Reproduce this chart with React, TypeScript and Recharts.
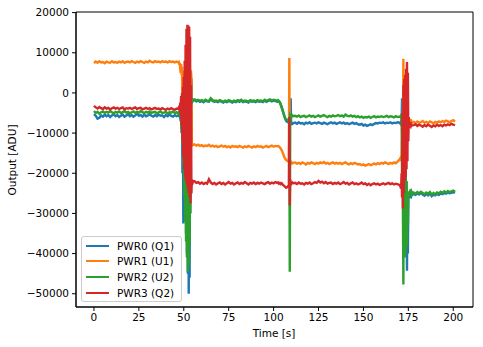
import { LineChart, Line, XAxis, YAxis, ReferenceArea, Legend } from "recharts";

// sample instants [s]; denser around the three switching events
const TIME = [
  0, 1, 2, 3, 4, 5, 6, 7, 8, 9, 10, 11,
  12, 13, 14, 15, 16, 17, 18, 19, 20, 21, 22, 23,
  24, 25, 26, 27, 28, 29, 30, 31, 32, 33, 34, 35,
  36, 37, 38, 39, 40, 41, 42, 43, 44, 45, 46, 47,
  47.25, 47.5, 47.75, 48, 48.25, 48.5, 48.75, 49,
  49.25, 49.5, 49.75, 50, 50.25, 50.5, 50.75, 51,
  51.25, 51.5, 51.75, 52, 52.25, 52.5, 52.75, 53,
  53.25, 53.5, 53.75, 54, 54.25, 54.5, 54.75, 55,
  56, 57, 58, 59, 60, 61, 62, 63, 64, 65, 66, 67,
  68, 69, 70, 71, 72, 73, 74, 75, 76, 77, 78, 79,
  80, 81, 82, 83, 84, 85, 86, 87, 88, 89, 90, 91,
  92, 93, 94, 95, 96, 97, 98, 99, 100, 101, 102,
  102.5, 103, 103.5, 104, 104.5, 105, 105.5, 106, 106.5, 107, 107.5, 108, 108.5,
  108.75, 109, 109.25, 109.5, 109.75, 110, 110.5, 111,
  112, 113, 114, 115, 116, 117, 118, 119, 120, 121, 122, 123,
  124, 125, 126, 127, 128, 129, 130, 131, 132, 133, 134, 135,
  136, 137, 138, 139, 140, 141, 142, 143, 144, 145, 146, 147,
  148, 149, 150, 151, 152, 153, 154, 155, 156, 157, 158, 159,
  160, 161, 162, 163, 164, 165, 166, 167, 168, 169, 170,
  170.25, 170.5, 170.75, 171, 171.25, 171.5, 171.75, 172,
  172.25, 172.5, 172.75, 173, 173.25, 173.5, 173.75, 174,
  174.25, 174.5, 174.75, 175, 175.25, 175.5, 175.75, 176,
  176.25, 176.5, 176.75, 177,
  178, 179, 180, 181, 182, 183, 184, 185, 186, 187, 188, 189,
  190, 191, 192, 193, 194, 195, 196, 197, 198, 199, 200, 201,
];

const PWR0 = [
  -5300, -5700, -6400, -6200, -5600, -5900, -5400, -5800, -5500, -6000, -5600, -5300,
  -5800, -5500, -6000, -5700, -5400, -5900, -5600, -5300, -5800, -5500, -5900, -5600,
  -5200, -5700, -5500, -5900, -5400, -5800, -5600, -5300, -5700, -5900, -5500, -5800,
  -5400, -5700, -5600, -6000, -5500, -5800, -5400, -5700, -5900, -5500, -5800, -5600,
  -5700, -5500, -5900, -5600, -7000, -5000, -10000, -4000,
  -20000, -3000, -32500, -2000, -28000, -1000, -30000, -3000,
  -35000, -5000, -40000, -8000, -45000, -10000, -50000, -12000,
  -46000, -6000, -25000, -3000, 3500, -1800, -2200, -1900,
  -1800, -2100, -1900, -2200, -2000, -2300, -1900, -2100, -2200, -1500, -2000, -2200,
  -2100, -2300, -2000, -2200, -2400, -2100, -2300, -2000, -2200, -2400, -2100, -2300,
  -2000, -2200, -1900, -2300, -2100, -2200, -2400, -2000, -2200, -2100, -2300, -2000,
  -2200, -2100, -2300, -1900, -2200, -2000, -1800, -2100, -1900, -2000, -2200,
  -2000, -2200, -2400, -2900, -3500, -4200, -5000, -5800, -6500, -7000, -7200, -7300, -7100,
  -7400, -7600, -7500, -1300, -7600, -7400, -7700, -7500,
  -7400, -7700, -7300, -7600, -7500, -7800, -7400, -7600, -7300, -7700, -7500, -7400,
  -7600, -7300, -7500, -7700, -7400, -7600, -7800, -7500, -7300, -7600, -7400, -7700,
  -7500, -7300, -7600, -7400, -7700, -7500, -7800, -7600, -7400, -7700, -7500, -7800,
  -7900, -7700, -8100, -7900, -8200, -8000, -7800, -8000, -7700, -7500, -7600, -7400,
  -7500, -7300, -7600, -7400, -7500, -7300, -7600, -7400, -7500, -7300, -7400,
  -7400, -7600, -7300, -7500, -7400, -1300, -9000, -3000,
  -20000, -6000, -28000, -12000, -35000, -16000, -40000, -22000,
  -44300, -27000, -40000, -26000, -25500, -25000, -25400, -25100,
  -25500, -25200, -25600, -25300,
  -25200, -25400, -25000, -25300, -24900, -25300, -25600, -25100, -25500, -25000, -25700, -25300,
  -25500, -25100, -25400, -25000, -25200, -24900, -25100, -24800, -25000, -24900, -24700, -24900,
];

const PWR1 = [
  7400, 7800, 7500, 7900, 7600, 7700, 7400, 7800, 7600, 7500, 7900, 7600,
  7700, 7500, 7800, 7600, 7900, 7500, 7700, 7800, 7600, 7900, 7700, 7500,
  7800, 7600, 7900, 7700, 7500, 7800, 7600, 8000, 7700, 7600, 7900, 7700,
  7800, 7600, 7900, 7700, 7800, 7600, 7900, 7700, 7800, 7600, 7800, 7600,
  7700, 7000, 7500, 6000, 5000, 7200, 4500, 6500,
  -2000, 5500, -8000, 3000, -10000, 4000, -12000, 2000,
  -13000, 1000, -14000, 3000, -12000, 4000, -13000, 5000,
  -12000, 6000, -10000, 5500, 3800, -12500, -12800, -13000,
  -12800, -13100, -12900, -13200, -13000, -13300, -13100, -13200, -12900, -13300, -13100, -13400,
  -13200, -13500, -13300, -13100, -13400, -13200, -13500, -13300, -13600, -13200, -13400, -13300,
  -13500, -13200, -13400, -13600, -13300, -13500, -13200, -13400, -13600, -13300, -13500, -13200,
  -13400, -13300, -13600, -13400, -13200, -13500, -13300, -13100, -13400, -13200, -13300,
  -13200, -13300, -13600, -13900, -14300, -14800, -15400, -16000, -16400, -16700, -16900, -17000, -17100,
  8700, -17000, -17400, -17200, -17500, -17300, -17500, -17400,
  -17300, -17600, -17400, -17700, -17300, -17500, -17800, -17400, -17600, -17300, -17500, -17700,
  -17400, -17600, -17300, -17500, -17200, -17600, -17400, -17700, -17500, -17300, -17600, -17400,
  -17600, -17400, -17700, -17500, -17300, -17600, -17800, -17500, -17700, -17400, -17600, -17800,
  -17700, -18000, -17800, -18100, -17900, -17700, -18000, -17800, -17600, -17800, -17500, -17700,
  -17400, -17600, -17300, -17500, -17700, -17400, -17600, -17300, -17500, -17100, -16600,
  -16500, -16300, -16800, -16000, -17000, -12000, -15000, -8000,
  8500, -14000, 0, -12000, 2000, -10000, 3000, -8000,
  1000, -6000, -7500, -7000, -7300, -7100, -7400, -7200,
  -7000, -7300, -7100, -7400,
  -7200, -7500, -7100, -7400, -7300, -7000, -7400, -7200, -7500, -7100, -7300, -7600,
  -7200, -7400, -7100, -7300, -7000, -7200, -6900, -7100, -7300, -7000, -6800, -7100,
];

const PWR2 = [
  -4500, -5000, -4700, -5200, -4800, -4600, -5000, -4700, -4900, -4500, -4800, -5100,
  -4700, -4900, -4600, -5000, -4800, -4500, -4900, -4700, -5100, -4800, -4600, -5000,
  -4700, -4900, -4500, -4800, -5000, -4700, -4900, -4600, -5000, -4800, -4700, -5100,
  -4800, -4600, -5000, -4900, -4700, -5100, -4800, -4900, -4600, -5000, -4800, -5200,
  -4900, -4700, -5000, -4800, -6000, -4500, -9000, -3000,
  -13000, -2000, -18000, -1000, -26000, -3000, -32000, -2000,
  -37000, -4000, -41000, -6000, -44500, -8000, -43000, -10000,
  -38000, -5000, -30000, -1500, -1800, -1400, -2000, -1700,
  -1600, -1900, -1700, -2000, -1800, -2100, -1700, -1900, -2000, -1300, -1800, -2000,
  -1900, -2100, -1800, -2000, -2200, -1900, -2100, -1800, -2000, -2200, -1900, -2100,
  -1800, -2000, -1700, -2100, -1900, -2000, -2200, -1800, -2000, -1900, -2100, -1800,
  -2000, -1900, -2100, -1700, -2000, -1800, -1600, -1900, -1700, -1800, -2000,
  -1800, -2000, -2400, -3000, -3700, -4400, -5100, -5800, -6300, -6600, -6700, -6800, -6600,
  -6000, -44500, -5600, -5800, -5700, -5900, -5600, -5800,
  -5700, -5900, -5600, -6000, -5800, -5700, -6000, -5800, -5600, -5900, -5700, -6000,
  -5800, -5600, -5900, -5700, -5500, -5800, -6000, -5700, -5900, -5600, -5800, -5700,
  -5500, -5800, -5600, -5900, -5400, -5700, -5800, -5600, -5900, -5700, -6000, -5800,
  -6100, -5900, -6200, -6000, -6100, -5900, -6200, -6000, -5800, -6100, -5900, -6000,
  -5800, -6000, -5900, -5700, -6000, -5800, -5900, -6100, -5800, -6000, -5900,
  -5900, -6000, -5800, -6100, -6000, -20000, -8000, -30000,
  -47700, -12000, -40000, -18000, -41000, -20000, -39000, -22000,
  -38000, -25000, -33000, -25500, -24500, -25200, -24800, -25100,
  -24700, -25000, -24600, -24900,
  -24800, -25100, -24700, -25000, -24600, -24900, -25200, -24800, -25100, -24700, -25300, -24900,
  -25200, -24800, -25000, -24600, -24900, -24500, -24800, -24400, -24700, -24500, -24300, -24600,
];

const PWR3 = [
  -3200, -3600, -3900, -3500, -3800, -4000, -3600, -3900, -3700, -4100, -3800, -3600,
  -3900, -3700, -4000, -3800, -3600, -4100, -3800, -3900, -3700, -4000, -3800, -3600,
  -4000, -3800, -3700, -4100, -3900, -3700, -4000, -3800, -4100, -3900, -3700, -4000,
  -3900, -4100, -3800, -4000, -4200, -3900, -4100, -3800, -4000, -4200, -3900, -4000,
  -3800, -3200, -4600, -2400, -5600, -800, -8000, 0,
  -12000, 1500, -16000, 4000, -19000, 8000, -21000, 12000,
  -22000, 16000, -23000, 17000, -24000, 16800, -25000, 16500,
  -26000, 14000, -27500, 2000, -25000, -21500, -22800, -22000,
  -22000, -22400, -22200, -22600, -22300, -22700, -22400, -22600, -21500, -22300, -22700, -22400,
  -22800, -22500, -22300, -22700, -22400, -22800, -22500, -22200, -22600, -22400, -22800, -22500,
  -22300, -22700, -22400, -22600, -22200, -22500, -22800, -22400, -22600, -22300, -22700, -22400,
  -22600, -22300, -22500, -22700, -22400, -22200, -22600, -22300, -22500, -22200, -22400,
  -22300, -22600, -22400, -22700, -22500, -22800, -23000, -23200, -23400, -23600, -23500, -23300, -23000,
  -6000, -28000, -21500, -23000, -22200, -22600, -22300, -22500,
  -22400, -22700, -22300, -22600, -22500, -22800, -22400, -22600, -22300, -22700, -22500, -22200,
  -22400, -21900, -22300, -22100, -22500, -22200, -22600, -22400, -22300, -22700, -22400, -22600,
  -22300, -22700, -22500, -22200, -22600, -22400, -22800, -22500, -22300, -22700, -22500, -22800,
  -22600, -22300, -22700, -22500, -22900, -22600, -23000, -22700, -22500, -22800, -22600, -22900,
  -22700, -22500, -22800, -22600, -22400, -22700, -22500, -22800, -22600, -22700, -22900,
  -23000, -23200, -23500, -23800, -20000, -26000, -5000, -28800,
  2000, -25000, 3500, -22000, 4500, -21000, 6000, -19000,
  7700, -17000, 5000, -12000, -6000, -8500, -7700, -8000,
  -7800, -8200, -7900, -8100,
  -8000, -7800, -8200, -7900, -8100, -8400, -8000, -8300, -7900, -8200, -8500, -8100,
  -8300, -7900, -8200, -8000, -8300, -7900, -8100, -7800, -8000, -7700, -7900, -8000,
];

const NAMES = ["PWR0 (Q1)", "PWR1 (U1)", "PWR2 (U2)", "PWR3 (Q2)"];
const COLORS = ["#1f77b4", "#ff7f0e", "#2ca02c", "#d62728"];
const KEYS = ["pwr0", "pwr1", "pwr2", "pwr3"];

const X_TICKS = [0, 25, 50, 75, 100, 125, 150, 175, 200];
const Y_TICKS = [-50000, -40000, -30000, -20000, -10000, 0, 10000, 20000];

const FONT = "'DejaVu Sans', sans-serif";
const X_DOMAIN: [number, number] = [-10, 211];
const Y_DOMAIN: [number, number] = [-53300, 20150];

const data = TIME.map((t, i) => ({
  t,
  pwr0: PWR0[i],
  pwr1: PWR1[i],
  pwr2: PWR2[i],
  pwr3: PWR3[i],
}));

// matplotlib uses a real minus sign
const fmt = (v: number) => (v < 0 ? "\u2212" + Math.abs(v) : String(v));

function LegendBox(props: any) {
  const payload = props.payload || [];
  return (
    <div
      style={{
        background: "rgba(255,255,255,0.8)",
        border: "1px solid #cccccc",
        borderRadius: 3,
        padding: "1px 0 1px 4px",
        fontFamily: FONT,
        fontSize: 10.5,
        color: "#000",
        boxSizing: "border-box",
        width: 101,
      }}
    >
      {payload.map((p: any) => (
        <div key={p.value} style={{ display: "flex", alignItems: "center", height: 15.6 }}>
          <span style={{ display: "inline-block", width: 23, height: 2, background: p.color, marginRight: 8 }} />
          <span>{p.value}</span>
        </div>
      ))}
    </div>
  );
}

export default function App() {
  return (
    <div style={{ position: "absolute", left: 0, top: 0, width: 483, height: 347, background: "#fff" }}>
      <LineChart width={483} height={347} data={data} margin={{ top: 12, right: 10, bottom: 0, left: 0 }}>
        <XAxis
          dataKey="t"
          type="number"
          domain={X_DOMAIN}
          ticks={X_TICKS}
          allowDataOverflow
          height={40}
          tickSize={4}
          tickMargin={3}
          axisLine={{ stroke: "#000" }}
          tickLine={{ stroke: "#000" }}
          tick={{ fill: "#000", fontSize: 10.5, fontFamily: FONT }}
          label={{
            content: () => (
              <text x={274} y={333} textAnchor="middle" dominantBaseline="central" fontSize={10.5} fontFamily={FONT} fill="#000">
                Time [s]
              </text>
            ),
          }}
        />
        <YAxis
          type="number"
          domain={Y_DOMAIN}
          ticks={Y_TICKS}
          allowDataOverflow
          width={76}
          tickSize={4}
          tickMargin={3}
          tickFormatter={fmt}
          axisLine={{ stroke: "#000" }}
          tickLine={{ stroke: "#000" }}
          tick={{ fill: "#000", fontSize: 10.5, fontFamily: FONT }}
          label={{
            content: () => (
              <text
                x={12}
                y={160}
                transform="rotate(-90 12 160)"
                textAnchor="middle"
                dominantBaseline="central"
                fontSize={10.5}
                fontFamily={FONT}
                fill="#000"
              >
                Output [ADU]
              </text>
            ),
          }}
        />
        {KEYS.map((k, i) => (
          <Line
            key={k}
            dataKey={k}
            name={NAMES[i]}
            type="linear"
            stroke={COLORS[i]}
            strokeWidth={2.4}
            dot={false}
            activeDot={false}
            isAnimationActive={false}
          />
        ))}
        <ReferenceArea
          x1={X_DOMAIN[0]}
          x2={X_DOMAIN[1]}
          y1={Y_DOMAIN[0]}
          y2={Y_DOMAIN[1]}
          fill="none"
          stroke="#000"
          strokeWidth={1}
        />
        <Legend
          layout="vertical"
          align="center"
          verticalAlign="middle"
          content={LegendBox}
          wrapperStyle={{ left: 81, top: 236, width: 101 }}
        />
      </LineChart>
    </div>
  );
}
